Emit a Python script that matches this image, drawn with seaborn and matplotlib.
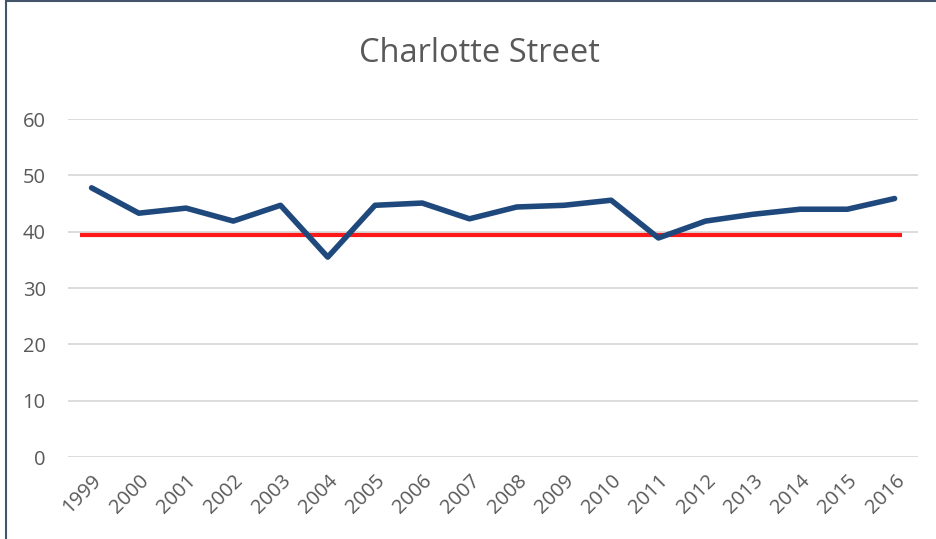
import matplotlib
matplotlib.use("Agg")
import matplotlib.pyplot as plt
import seaborn as sns
import pandas as pd

# values
years = ["1999", "2000", "2001", "2002", "2003", "2004", "2005", "2006", "2007",
         "2008", "2009", "2010", "2011", "2012", "2013", "2014", "2015", "2016"]
values = [47.8, 43.3, 44.2, 41.9, 44.7, 35.5, 44.7, 45.1, 42.3,
          44.4, 44.7, 45.6, 38.9, 41.9, 43.1, 44.0, 44.0, 45.9]
threshold = 39.4

df = pd.DataFrame({"year": years, "value": values})

sns.set_theme(style="white")
plt.rcParams["font.family"] = ["Open Sans", "DejaVu Sans"]

fig = plt.figure(figsize=(9.36, 5.39), dpi=100)
ax = fig.add_axes([0.0726, 0.152, 0.9084, 0.627])

# horizontal gridlines
ax.yaxis.grid(True, color="#d9d9d9", lw=1.3)
ax.set_axisbelow(True)

# red reference line
ax.hlines(threshold, -0.25, len(years) - 0.85, color="#ff0000", lw=3, alpha=0.9, zorder=2)

sns.lineplot(data=df, x="year", y="value", ax=ax, color="#1f497d", lw=4,
             sort=False, zorder=3)

ax.set_ylim(0, 60)
ax.set_yticks(range(0, 61, 10))
ax.set_xlim(-0.5, len(years) - 0.5)
ax.set_xlabel("")
ax.set_ylabel("")
for s in ax.spines.values():
    s.set_visible(False)

ax.tick_params(axis="y", length=0, pad=16, labelsize=14.5, labelcolor="#595959")
ax.tick_params(axis="x", length=0, pad=10, labelsize=14.5, labelcolor="#595959")
plt.setp(ax.get_xticklabels(), rotation=45, ha="right", rotation_mode="anchor")

fig.text(0.512, 0.900, "Charlotte Street", ha="center", va="center",
         fontsize=23.5, color="#595959")

# outer chart border (left and top edges visible in the reference)
fig.add_artist(plt.Line2D([0.006, 0.006], [0, 1], color="#44546a", lw=1.5))
fig.add_artist(plt.Line2D([0.006, 1], [0.998, 0.998], color="#44546a", lw=1.5))

fig.savefig("out.png", dpi=100, facecolor="white")
